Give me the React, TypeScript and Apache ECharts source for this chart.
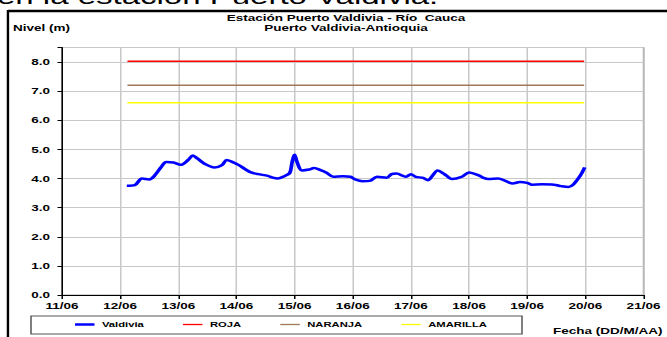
import React, { useEffect, useRef } from "react";
import * as echarts from "echarts";

const tickLabels = ["11/06", "12/06", "13/06", "14/06", "15/06", "16/06", "17/06", "18/06", "19/06", "20/06", "21/06"];

const valdiviaTimes = [
  "12/06 02:45", "12/06 06:00", "12/06 09:00", "12/06 12:00", "12/06 14:00", "12/06 17:00", "12/06 19:00", "12/06 22:00",
  "13/06 01:00", "13/06 04:00", "13/06 06:00", "13/06 08:00", "13/06 11:00", "13/06 15:00", "13/06 18:00", "13/06 20:00", "13/06 22:00",
  "14/06 01:00", "14/06 04:00", "14/06 06:00", "14/06 09:00", "14/06 13:00", "14/06 15:00", "14/06 17:00", "14/06 20:00", "14/06 22:00", "14/06 23:00",
  "15/06 00:00", "15/06 01:00", "15/06 03:00", "15/06 06:00", "15/06 08:00", "15/06 11:00", "15/06 13:00", "15/06 16:00", "15/06 20:00", "15/06 23:00",
  "16/06 01:00", "16/06 04:00", "16/06 07:00", "16/06 10:00", "16/06 14:00", "16/06 16:00", "16/06 18:00", "16/06 22:00",
  "17/06 00:00", "17/06 02:00", "17/06 05:00", "17/06 07:00", "17/06 09:00", "17/06 11:00", "17/06 14:00", "17/06 17:00", "17/06 21:00",
  "18/06 00:00", "18/06 04:00", "18/06 06:00", "18/06 08:00", "18/06 12:00", "18/06 15:00", "18/06 18:00", "18/06 21:00",
  "19/06 00:00", "19/06 02:00", "19/06 06:00", "19/06 11:00", "19/06 14:00", "19/06 17:00", "19/06 19:00", "19/06 22:00", "19/06 23:45",
];
const valdiviaLevels = [
  3.75, 3.77, 4.0, 3.97, 4.08, 4.4, 4.57, 4.55,
  4.47, 4.63, 4.79, 4.68, 4.5, 4.38, 4.46, 4.64, 4.58,
  4.46, 4.3, 4.21, 4.15, 4.09, 4.03, 4.0, 4.09, 4.19, 4.57,
  4.82, 4.57, 4.28, 4.31, 4.36, 4.28, 4.21, 4.06, 4.08, 4.06,
  3.97, 3.91, 3.92, 4.06, 4.03, 4.15, 4.17, 4.06,
  4.15, 4.06, 4.02, 3.94, 4.11, 4.28, 4.14, 3.98, 4.06,
  4.21, 4.11, 4.02, 3.98, 4.0, 3.92, 3.83, 3.88,
  3.85, 3.79, 3.8, 3.79, 3.74, 3.71, 3.79, 4.11, 4.38,
];

const thresholdNames = ["ROJA", "NARANJA", "AMARILLA"];
const thresholdLevels = [8.03, 7.2, 6.6];
const thresholdColors = ["#ff0000", "#a0785a", "#ffff00"];
const thresholdStart = "12/06 03:00";
const thresholdEnd = "19/06 23:30";

const S = 1.5;
const W = 667 / S;
const H = 337;

function toDays(s: string): number {
  const [d, t] = s.split(" ");
  const day = parseInt(d.split("/")[0], 10);
  const [hh, mm] = t.split(":").map((x) => parseInt(x, 10));
  return day - 11 + hh / 24 + mm / 1440;
}

export default function App() {
  const ref = useRef<HTMLDivElement>(null);
  useEffect(() => {
    if (!ref.current) return;
    const chart = echarts.init(ref.current, null, { renderer: "svg" });
    const font = "'Liberation Sans', Arial, sans-serif";
    const valdivia = valdiviaTimes.map((t, i) => [toDays(t), valdiviaLevels[i]]);
    const thresholdSeries = thresholdNames.map((name, i) => ({
      name,
      type: "line",
      symbol: "none",
      lineStyle: { color: thresholdColors[i], width: 1.5 },
      itemStyle: { color: thresholdColors[i] },
      data: [
        [toDays(thresholdStart), thresholdLevels[i]],
        [toDays(thresholdEnd), thresholdLevels[i]],
      ],
      z: 2,
    }));
    const legendText = { fontSize: 7.5, fontWeight: "bold", color: "#000", fontFamily: font };
    chart.setOption({
      animation: false,
      backgroundColor: "#ffffff",
      textStyle: { fontFamily: font },
      grid: {
        left: 62 / S,
        right: 24 / S,
        top: 47.5,
        bottom: 42,
        show: true,
        borderColor: "#a8a8a8",
        borderWidth: 1,
      },
      legend: [
        {
          left: 75 / S,
          top: 320.5,
          padding: 0,
          icon: "rect",
          itemWidth: 13,
          itemHeight: 2.5,
          data: ["Valdivia"],
          textStyle: legendText,
        },
        {
          left: 183 / S,
          top: 320.5,
          padding: 0,
          icon: "rect",
          itemWidth: 13,
          itemHeight: 1.3,
          itemGap: 26,
          data: thresholdNames,
          textStyle: legendText,
        },
      ],
      xAxis: {
        type: "value",
        min: 0,
        max: 10,
        interval: 1,
        axisLine: { lineStyle: { color: "#000", width: 1 } },
        axisTick: { show: true, length: 4, lineStyle: { color: "#000" } },
        axisLabel: {
          formatter: (v: number) => tickLabels[Math.round(v)] ?? "",
          fontSize: 9,
          fontWeight: "bold",
          color: "#000",
          margin: 6,
          fontFamily: font,
        },
        splitLine: { show: true, lineStyle: { color: "#c8c8c8", width: 1 } },
      },
      yAxis: {
        type: "value",
        min: 0,
        max: 8.5,
        interval: 1,
        axisLine: { show: true, lineStyle: { color: "#000", width: 1 } },
        axisTick: { show: true, length: 3, lineStyle: { color: "#000" } },
        axisLabel: {
          formatter: (v: number) => (v > 8.01 ? "" : v.toFixed(1)),
          fontSize: 9,
          fontWeight: "bold",
          color: "#000",
          margin: 8,
          fontFamily: font,
        },
        splitLine: { show: true, lineStyle: { color: "#c8c8c8", width: 1 } },
      },
      graphic: [
        {
          type: "text",
          left: -2,
          top: -14,
          style: { text: "en la estación Puerto Valdivia.", font: `22px ${font}`, fill: "#000" },
          z: 10,
        },
        {
          type: "line",
          shape: { x1: 5.3, y1: 11, x2: W, y2: 11 },
          style: { stroke: "#000", lineWidth: 2.5 },
        },
        {
          type: "line",
          shape: { x1: 5.3, y1: 10, x2: 5.3, y2: H },
          style: { stroke: "#000", lineWidth: 1.6 },
        },
        {
          type: "text",
          x: 346 / S,
          y: 18,
          style: {
            text: "Estación Puerto Valdivia - Río  Cauca",
            font: `bold 9px ${font}`,
            fill: "#000",
            align: "center",
            verticalAlign: "middle",
          },
        },
        {
          type: "text",
          x: 346 / S,
          y: 28,
          style: {
            text: "Puerto Valdivia-Antioquia",
            font: `bold 9px ${font}`,
            fill: "#000",
            align: "center",
            verticalAlign: "middle",
          },
        },
        {
          type: "text",
          x: 13 / S,
          y: 28,
          style: { text: "Nivel (m)", font: `bold 9px ${font}`, fill: "#000", verticalAlign: "middle" },
        },
        {
          type: "rect",
          shape: { x: 31 / S, y: 316, width: (522 - 31) / S, height: 18 },
          style: { fill: "#fff", stroke: "#555", lineWidth: 1 },
          z: -1,
        },
        {
          type: "text",
          x: 553 / S,
          y: 331,
          style: { text: "Fecha (DD/M/AA)", font: `bold 9px ${font}`, fill: "#000", verticalAlign: "middle" },
        },
      ],
      series: [
        {
          name: "Valdivia",
          type: "line",
          symbol: "none",
          smooth: 0.3,
          lineStyle: { color: "#0000ff", width: 2.5 },
          itemStyle: { color: "#0000ff" },
          data: valdivia,
          z: 3,
        },
        ...thresholdSeries,
      ],
    });
    return () => chart.dispose();
  }, []);
  return (
    <div
      ref={ref}
      style={{
        position: "fixed",
        left: 0,
        top: 0,
        width: W,
        height: H,
        transform: `scaleX(${S})`,
        transformOrigin: "0 0",
      }}
    />
  );
}
